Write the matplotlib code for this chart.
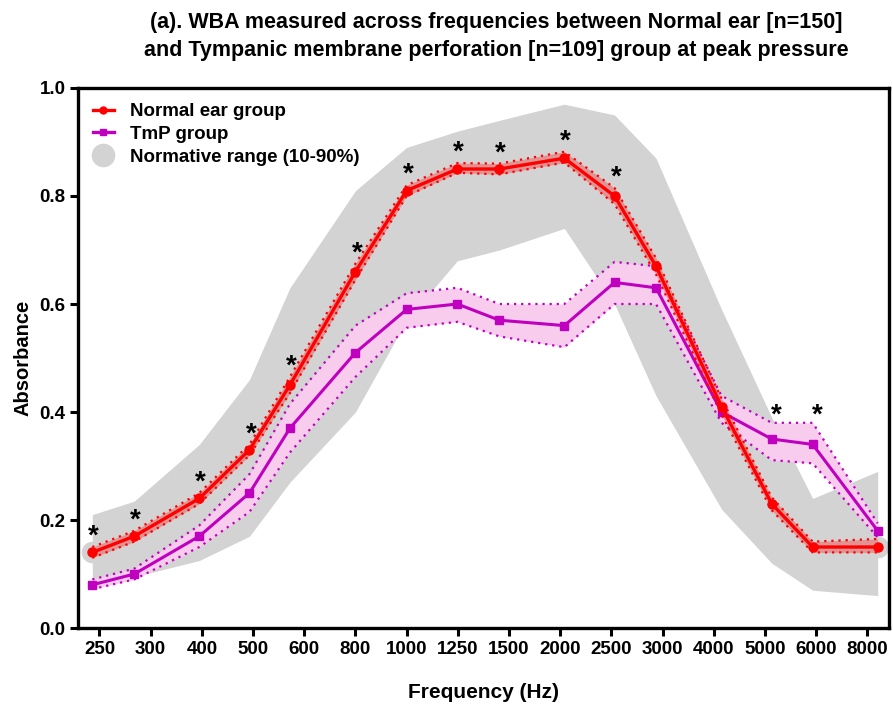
import numpy as np
import matplotlib
matplotlib.use('Agg')
import matplotlib.pyplot as plt
from matplotlib.lines import Line2D

plt.rcParams['font.family'] = ['Liberation Sans', 'DejaVu Sans']
plt.rcParams['font.weight'] = 'bold'

# tick labels (equally spaced categories)
freq_labels = ['250', '300', '400', '500', '600', '800', '1000', '1250', '1500',
               '2000', '2500', '3000', '4000', '5000', '6000', '8000']
# measured frequency positions on the category axis
freq_pos = [-0.14, 0.68, 1.95, 2.93, 3.72, 5.0, 6.0, 6.99, 7.81, 9.08,
            10.06, 10.87, 12.15, 13.13, 13.93, 15.2]

normal_mean = [0.14, 0.17, 0.24, 0.33, 0.45, 0.66, 0.81, 0.85, 0.85, 0.87,
               0.80, 0.67, 0.41, 0.23, 0.15, 0.15]
normal_lo = [0.13, 0.16, 0.23, 0.32, 0.435, 0.645, 0.80, 0.843, 0.84, 0.862,
             0.785, 0.655, 0.395, 0.218, 0.14, 0.14]
normal_hi = [0.15, 0.18, 0.25, 0.34, 0.465, 0.675, 0.82, 0.861, 0.86, 0.882,
             0.815, 0.685, 0.425, 0.242, 0.16, 0.165]

tmp_mean = [0.08, 0.10, 0.17, 0.25, 0.37, 0.51, 0.59, 0.60, 0.57, 0.56,
            0.64, 0.63, 0.40, 0.35, 0.34, 0.18]
tmp_lo = [0.072, 0.09, 0.15, 0.215, 0.325, 0.465, 0.556, 0.567, 0.54, 0.52,
          0.60, 0.60, 0.38, 0.311, 0.305, 0.168]
tmp_hi = [0.09, 0.11, 0.19, 0.285, 0.415, 0.56, 0.62, 0.63, 0.60, 0.60,
          0.678, 0.67, 0.43, 0.38, 0.38, 0.194]

# normative range (10-90 percentile)
norm_lo = [0.085, 0.095, 0.125, 0.17, 0.27, 0.40, 0.57, 0.68, 0.70, 0.74,
           0.60, 0.43, 0.22, 0.12, 0.07, 0.06]
norm_hi = [0.21, 0.235, 0.34, 0.46, 0.63, 0.81, 0.89, 0.92, 0.94, 0.97,
           0.95, 0.87, 0.59, 0.39, 0.24, 0.29]

# significance marks
sig_normal = list(range(0, 11))
sig_tmp = [13, 14]

grey = '#D3D3D3'
red = '#FF0000'
mag = '#BF00BF'
pink = '#F8CCEC'

fig = plt.figure(figsize=(8.93, 7.09), dpi=100)
ax = fig.add_axes([0.0873, 0.1142, 0.9082, 0.7617])

x = np.array(freq_pos)
ax.fill_between(x, norm_lo, norm_hi, color=grey, lw=0, zorder=1)
ax.plot(x[[0, -1]], np.array(normal_mean)[[0, -1]], ls='none', marker='o',
        ms=14.5, color=grey, zorder=1)

ax.fill_between(x, tmp_lo, tmp_hi, color=pink, lw=0, zorder=2)
ax.plot(x, tmp_lo, c=mag, lw=1.6, ls=(0, (1, 2.2)), zorder=3)
ax.plot(x, tmp_hi, c=mag, lw=1.6, ls=(0, (1, 2.2)), zorder=3)
ax.plot(x, tmp_mean, c=mag, lw=2.2, marker='s', ms=6, zorder=4)

ax.fill_between(x, normal_lo, normal_hi, color=red, alpha=0.3, lw=0, zorder=5)
ax.plot(x, normal_lo, c=red, lw=1.6, ls=(0, (1, 2.2)), zorder=6)
ax.plot(x, normal_hi, c=red, lw=1.6, ls=(0, (1, 2.2)), zorder=6)
ax.plot(x, normal_mean, c=red, lw=2.4, marker='o', ms=6.5, zorder=7)

for i in sig_normal:
    ax.annotate('*', (x[i], normal_hi[i]), xytext=(1, -2), textcoords='offset points',
                ha='center', va='bottom', fontsize=20, fontweight='bold', zorder=8)
for i in sig_tmp:
    ax.annotate('*', (x[i], tmp_hi[i]), xytext=(3, -4), textcoords='offset points',
                ha='center', va='bottom', fontsize=20, fontweight='bold', zorder=8)

ax.set_xlim(-0.42, 15.42)
ax.set_ylim(0, 1.0)
ax.set_xticks(np.arange(len(freq_labels)))
ax.set_xticklabels(freq_labels, fontsize=13.5, fontweight='bold')
ax.set_yticks(np.arange(0, 1.01, 0.2))
ax.set_yticklabels(['{:.1f}'.format(v) for v in np.arange(0, 1.01, 0.2)],
                   fontsize=13.5, fontweight='bold')
ax.tick_params(axis='both', width=2.2, length=6, direction='out', pad=3)
for spi in ['bottom', 'left', 'top', 'right']:
    ax.spines[spi].set_linewidth(2.4)

ax.set_xlabel('Frequency (Hz)', fontsize=15, fontweight='bold', labelpad=18)
ax.set_ylabel('Absorbance', fontsize=14.5, fontweight='bold', labelpad=5)

fig.text(0.556, 0.983, '(a). WBA measured across frequencies between Normal ear [n=150]\n'
         'and Tympanic membrane perforation [n=109] group at peak pressure',
         ha='center', va='top', fontsize=15.5, fontweight='bold', linespacing=1.45)

handles = [Line2D([], [], c=red, lw=2.4, marker='o', ms=5),
           Line2D([], [], c=mag, lw=2.4, marker='s', ms=5),
           Line2D([], [], ls='none', marker='o', ms=16, color=grey)]
ax.legend(handles, ['Normal ear group', 'TmP group', 'Normative range (10-90%)'],
          loc='upper left', bbox_to_anchor=(0.0, 1.0), frameon=False,
          fontsize=13.5, handlelength=1.1, handletextpad=0.9, labelspacing=0.3,
          borderaxespad=0.4)

plt.savefig('out.png', dpi=100)
